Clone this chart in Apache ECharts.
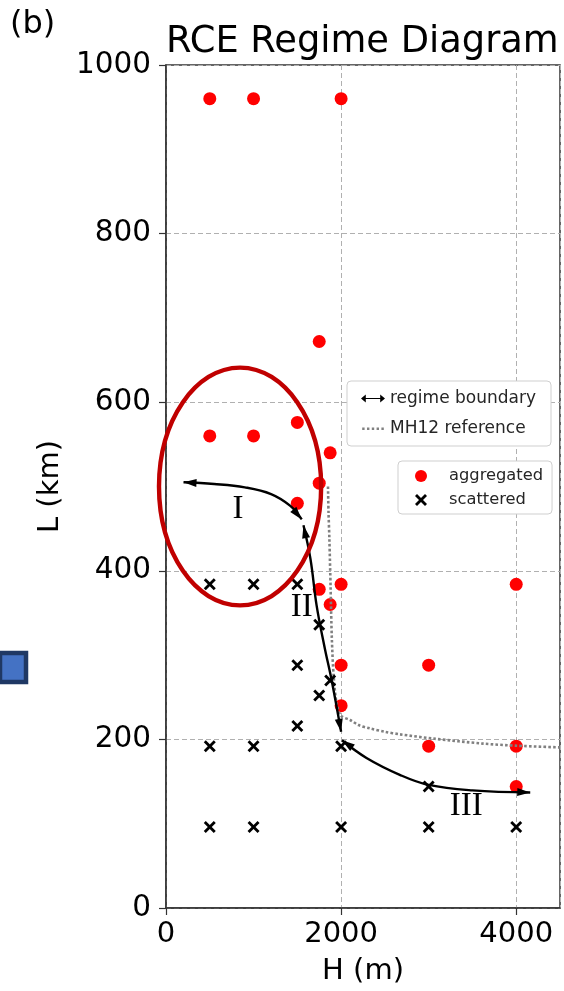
<!DOCTYPE html>
<html>
<head>
<meta charset="utf-8">
<script src="https://cdn.jsdelivr.net/npm/echarts@6/dist/echarts.min.js"></script>
<style>
  html, body { margin: 0; padding: 0; background: #fff; }
  #chart { width: 564px; height: 991px; }
</style>
</head>
<body>
<div id="chart"></div>
<script>
// ---------------- data ----------------
// aggregated simulations (H in m, L in km)
const aggH = [500, 1000, 2000, 1750, 500, 1000, 1500, 1875, 1750, 1500, 1750, 2000, 4000, 1875, 2000, 3000, 2000, 3000, 4000, 4000];
const aggL = [960, 960, 960, 672, 560, 560, 576, 540, 504, 480, 378, 384, 384, 360, 288, 288, 240, 192, 192, 144];
// scattered simulations
const scatH = [500, 1000, 1500, 1750, 1500, 1875, 1750, 1500, 500, 1000, 2000, 3000, 500, 1000, 2000, 3000, 4000];
const scatL = [384, 384, 384, 336, 288, 270, 252, 216, 192, 192, 192, 144, 96, 96, 96, 96, 96];
// regime boundaries (double-headed arrows)
const boundI_H = [200, 550, 900, 1200, 1420, 1550];
const boundI_L = [505, 503, 499, 491, 477, 461];
const boundII_H = [1570, 1650, 1720, 1810, 1894, 2000];
const boundII_L = [454, 414, 359, 310, 269, 209];
const boundIII_H = [2010, 2290, 2670, 3000, 3500, 4160];
const boundIII_L = [199, 178, 158, 146, 139.5, 137];
// MH12 reference curve
const mh12H = [1850, 1856, 1866, 1880, 1894, 1915, 1951, 2000, 2103, 2200, 2331, 2500, 2674, 3051, 3623, 4008, 4500];
const mh12L = [500, 470, 438, 380, 320, 275, 241, 228, 223, 217, 213, 209, 206, 201, 195, 192.5, 190.5];
// regime names and their positions
const regimeNames = ['I', 'II', 'III'];
const regimeH = [823, 1551, 3429];
const regimeL = [473, 357, 121];
// highlighted region (centre and half-axes in data units)
const ringCenter = [846, 500];
const ringHalf = [926, 141];
// axes
const xMin = 0, xMax = 4500, xStep = 2000;
const yMin = 0, yMax = 1000, yStep = 200;

const FONT = 'DejaVu Sans';
const ARROW_W = 8, ARROW_LEN = 13;
const CROSS = 'path://M0,2L2,0L6,4L10,0L12,2L8,6L12,10L10,12L6,8L2,12L0,10L4,6Z';
const DOTS = 'path://M0,4h2.4v2.4h-2.4zM4.8,4h2.4v2.4h-2.4zM9.6,4h2.4v2.4h-2.4zM14.4,4h2.4v2.4h-2.4zM19.2,4h2.4v2.4h-2.4zM0,0h0.01v10h-0.01zM21.6,0h0.01v10h-0.01z';
const DOUBLE_ARROW = 'path://M0,5L6,0L6,4.3L24,4.3L24,0L30,5L24,10L24,5.7L6,5.7L6,10Z';

const zip = (a, b) => a.map((v, i) => [v, b[i]]);

function boundarySeries(hs, ls) {
  return {
    name: 'regime boundary', type: 'line', data: zip(hs, ls), smooth: 0.4,
    symbol: 'none', lineStyle: { color: '#000', width: 2.4 },
    itemStyle: { color: '#000' }, z: 4, silent: true
  };
}

const chart = echarts.init(document.getElementById('chart'), null, { renderer: 'canvas' });

const option = {
  animation: false,
  backgroundColor: '#fff',
  title: {
    text: 'RCE Regime Diagram', left: 166, top: 24, padding: 0,
    textStyle: { fontFamily: FONT, fontSize: 36.8, fontWeight: 'normal', color: '#000' }
  },
  grid: {
    left: 166, right: 4, top: 65, bottom: 81, containLabel: false,
    show: true, borderColor: '#333', borderWidth: 1.5, backgroundColor: 'transparent'
  },
  xAxis: {
    type: 'value', min: xMin, max: xMax, interval: xStep,
    name: 'H (m)', nameLocation: 'middle', nameGap: 49,
    nameTextStyle: { fontFamily: FONT, fontSize: 29, color: '#000' },
    axisLine: { show: true, lineStyle: { color: '#333', width: 1.5 } },
    axisTick: { show: true, length: 7, lineStyle: { color: '#333', width: 1.2 } },
    axisLabel: {
      showMaxLabel: false, margin: 12, fontFamily: FONT, fontSize: 29, color: '#000',
      formatter: v => String(v)
    },
    splitLine: { show: true, lineStyle: { color: '#b0b0b0', width: 1, type: [5, 3] } }
  },
  yAxis: {
    type: 'value', min: yMin, max: yMax, interval: yStep,
    name: 'L (km)', nameLocation: 'middle', nameGap: 99,
    nameTextStyle: { fontFamily: FONT, fontSize: 29, color: '#000' },
    axisLine: { show: true, lineStyle: { color: '#333', width: 1.5 } },
    axisTick: { show: true, length: 7, lineStyle: { color: '#333', width: 1.2 } },
    axisLabel: { margin: 15, fontFamily: FONT, fontSize: 29.5, color: '#000', formatter: v => String(v) },
    splitLine: { show: true, lineStyle: { color: '#b0b0b0', width: 1, type: [5, 3] } }
  },
  legend: [
    {
      id: 'lgLines', orient: 'vertical', left: 347, top: 381,
      data: [
        { name: 'regime boundary', icon: DOUBLE_ARROW },
        { name: 'MH12 reference', icon: DOTS }
      ],
      itemWidth: 24, itemHeight: 10, itemGap: 13,
      padding: [9, 15, 9, 14],
      backgroundColor: '#fff', borderColor: '#cfcfcf', borderWidth: 1, borderRadius: 4,
      selectedMode: false,
      textStyle: { fontFamily: FONT, fontSize: 17, color: '#262626' }
    },
    {
      id: 'lgPoints', orient: 'vertical', left: 398, top: 461,
      data: ['aggregated', 'scattered'],
      itemWidth: 46, itemHeight: 12, itemGap: 8,
      padding: [7, 9, 6, 17],
      backgroundColor: '#fff', borderColor: '#cfcfcf', borderWidth: 1, borderRadius: 4,
      selectedMode: false,
      textStyle: { fontFamily: FONT, fontSize: 16.3, color: '#262626' }
    }
  ],
  series: [
    {
      name: 'aggregated', type: 'scatter', data: zip(aggH, aggL),
      symbol: 'circle', symbolSize: 13, itemStyle: { color: '#ff0000', opacity: 1 }, z: 2, silent: true
    },
    {
      name: 'scattered', type: 'scatter', data: zip(scatH, scatL),
      symbol: CROSS, symbolSize: 12, itemStyle: { color: '#000', opacity: 1 }, z: 3, silent: true
    },
    {
      name: 'MH12 reference', type: 'line', data: zip(mh12H, mh12L), smooth: 0.3,
      symbol: 'none', lineStyle: { color: '#808080', width: 2.6, type: [2.6, 2.2] },
      itemStyle: { color: '#808080' }, z: 3, silent: true
    },
    boundarySeries(boundI_H, boundI_L),
    boundarySeries(boundII_H, boundII_L),
    boundarySeries(boundIII_H, boundIII_L),
    {
      name: 'arrowheads', id: 'arrowheads', type: 'scatter', data: [],
      symbol: 'triangle', symbolSize: [ARROW_W, ARROW_LEN],
      itemStyle: { color: '#000', opacity: 1 }, z: 5, silent: true
    },
    {
      name: 'regimes', type: 'scatter',
      data: regimeNames.map((n, i) => ({ name: n, value: [regimeH[i], regimeL[i]] })),
      symbolSize: 1, itemStyle: { color: 'transparent', opacity: 1 }, z: 6, silent: true,
      label: {
        show: true, position: 'inside', formatter: '{b}',
        fontFamily: 'Liberation Serif', fontSize: 33, color: '#000'
      }
    }
  ]
};

chart.setOption(option);

// ---- arrowheads and highlight ring, placed through the axes' scales ----
const toPx = (h, l) => chart.convertToPixel({ gridIndex: 0 }, [h, l]);

function arrowAt(hs, ls, atEnd) {
  const n = hs.length;
  const i1 = atEnd ? n - 1 : 0;
  const i0 = atEnd ? n - 2 : 1;
  const a = toPx(hs[i0], ls[i0]);
  const b = toPx(hs[i1], ls[i1]);
  let dx = b[0] - a[0], dy = b[1] - a[1];
  const d = Math.hypot(dx, dy) || 1;
  dx /= d; dy /= d;
  return {
    value: [hs[i1], ls[i1]],
    symbolRotate: Math.atan2(-dx, -dy) * 180 / Math.PI,
    symbolOffset: [-dx * ARROW_LEN / 2, -dy * ARROW_LEN / 2]
  };
}

const arrows = [
  arrowAt(boundI_H, boundI_L, false), arrowAt(boundI_H, boundI_L, true),
  arrowAt(boundII_H, boundII_L, false), arrowAt(boundII_H, boundII_L, true),
  arrowAt(boundIII_H, boundIII_L, false), arrowAt(boundIII_H, boundIII_L, true)
];

const c = toPx(ringCenter[0], ringCenter[1]);
const e = toPx(ringCenter[0] + ringHalf[0], ringCenter[1] + ringHalf[1]);

chart.setOption({
  series: [{ id: 'arrowheads', data: arrows }],
  graphic: [
    {
      id: 'ring', type: 'ellipse', z: 100, silent: true,
      shape: { cx: c[0], cy: c[1], rx: Math.abs(e[0] - c[0]), ry: Math.abs(c[1] - e[1]) },
      style: { fill: 'none', stroke: '#c00000', lineWidth: 4.4 }
    },
    {
      id: 'panel', type: 'text', left: 10, top: 9, z: 100, silent: true,
      style: { text: '(b)', fontFamily: FONT, fontSize: 32, fill: '#000' }
    },
    {
      id: 'marker', type: 'rect', z: 100, silent: true,
      shape: { x: 0, y: 653, width: 26, height: 29 },
      style: { fill: '#4472c4', stroke: '#1f3864', lineWidth: 4.5 }
    }
  ]
});
</script>
</body>
</html>
